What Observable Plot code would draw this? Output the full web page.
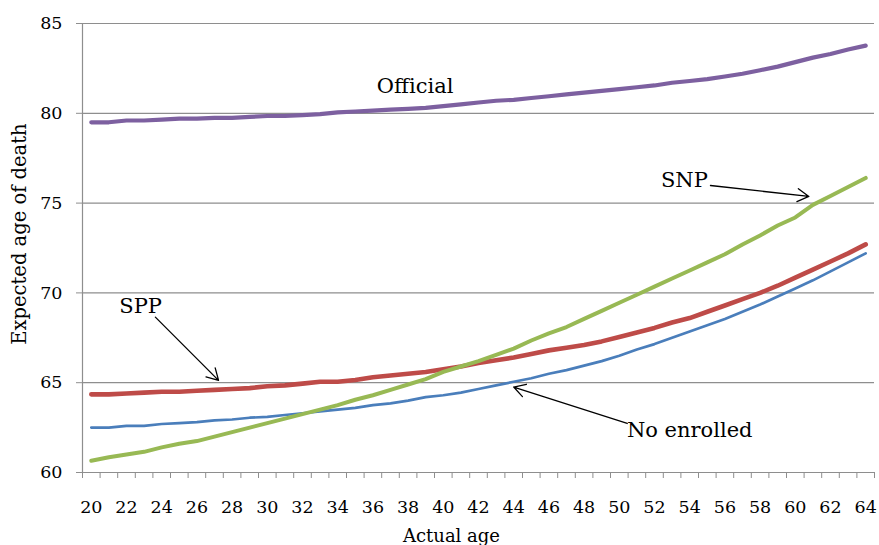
<!DOCTYPE html>
<html>
<head>
<meta charset="utf-8">
<script src="https://cdn.jsdelivr.net/npm/d3@7"></script>
<script src="https://cdn.jsdelivr.net/npm/@observablehq/plot@0.6"></script>
<style>
  html, body { margin: 0; padding: 0; background: #ffffff; }
  #chart svg { display: block; }
</style>
</head>
<body>
<div id="chart"></div>
<script>
// ---- Data ----
const ages = [20,21,22,23,24,25,26,27,28,29,30,31,32,33,34,35,36,37,38,39,40,41,42,
              43,44,45,46,47,48,49,50,51,52,53,54,55,56,57,58,59,60,61,62,63,64];

const noEnrolled = [62.5,62.5,62.6,62.6,62.7,62.75,62.8,62.9,62.95,63.05,63.1,63.2,63.3,63.4,63.5,
                    63.6,63.75,63.85,64.0,64.2,64.3,64.45,64.65,64.85,65.05,65.25,65.5,65.7,65.95,66.2,
                    66.5,66.85,67.15,67.5,67.85,68.2,68.55,68.95,69.35,69.8,70.25,70.7,71.2,71.7,72.2];

const spp = [64.35,64.35,64.4,64.45,64.5,64.5,64.55,64.6,64.65,64.7,64.8,64.85,64.95,65.05,65.05,
             65.15,65.3,65.4,65.5,65.6,65.75,65.9,66.1,66.25,66.4,66.6,66.8,66.95,67.1,67.3,
             67.55,67.8,68.05,68.35,68.6,68.95,69.3,69.65,70.0,70.4,70.85,71.3,71.75,72.2,72.7];

const snp = [60.65,60.85,61.0,61.15,61.4,61.6,61.75,62.0,62.25,62.5,62.75,63.0,63.25,63.5,63.75,
             64.05,64.3,64.6,64.9,65.2,65.6,65.9,66.2,66.55,66.9,67.35,67.75,68.1,68.55,69.0,
             69.45,69.9,70.35,70.8,71.25,71.7,72.15,72.7,73.2,73.75,74.2,74.9,75.4,75.9,76.4];

const official = [79.5,79.5,79.6,79.6,79.65,79.7,79.7,79.75,79.75,79.8,79.85,79.85,79.9,79.95,80.05,
                  80.1,80.15,80.2,80.25,80.3,80.4,80.5,80.6,80.7,80.75,80.85,80.95,81.05,81.15,81.25,
                  81.35,81.45,81.55,81.7,81.8,81.9,82.05,82.2,82.4,82.6,82.85,83.1,83.3,83.55,83.77];

const xTickLabels = [20,22,24,26,28,30,32,34,36,38,40,42,44,46,48,50,52,54,56,58,60,62,64];
const yTickLabels = [60,65,70,75,80,85];

const xTitle = "Actual age";
const yTitle = "Expected age of death";

// annotation labels (text positions in data units)
const labelNames = ["Official", "SPP", "SNP", "No enrolled"];
const labelAges  = [38.4, 22.8, 53.7, 54.0];
const labelVals  = [81.5, 69.23, 76.26, 62.35];

// annotation arrows (data units): start -> end (arrow head at end)
const arrowFromAge = [23.64, 55.18, 50.45];
const arrowFromVal = [68.65, 75.98, 62.73];
const arrowToAge   = [27.23, 60.77, 44.0];
const arrowToVal   = [65.13, 75.37, 64.76];

// ---- Build tables for the library ----
const seriesDefs = [
  {name: "No enrolled", values: noEnrolled, color: "#4A7EBB", width: 2.7},
  {name: "SPP",         values: spp,        color: "#BE4B48", width: 4.6},
  {name: "SNP",         values: snp,        color: "#98B954", width: 4.0},
  {name: "Official",    values: official,   color: "#7D60A0", width: 4.2}
];
const labels = labelNames.map((t, i) => ({text: t, age: labelAges[i], value: labelVals[i]}));
const arrows = arrowFromAge.map((a, i) => ({x1: a, y1: arrowFromVal[i], x2: arrowToAge[i], y2: arrowToVal[i]}));
// category boundaries for tick marks (between categories, like the original)
const catBounds = ages.map(a => a - 0.5).concat([ages[ages.length - 1] + 0.5]);

const gridColor = "#8E8E8E";
const axisColor = "#8E8E8E";
const font = "DejaVu Serif";

const chart = Plot.plot({
  width: 879,
  height: 545,
  marginLeft: 82,
  marginRight: 5,
  marginTop: 23,
  marginBottom: 73,
  style: {fontFamily: font, fontSize: "17px", background: "#ffffff", color: "#000000", overflow: "visible"},
  x: {domain: [catBounds[0], catBounds[catBounds.length - 1]]},
  y: {domain: [yTickLabels[0], yTickLabels[yTickLabels.length - 1]]},
  marks: [
    // horizontal gridlines
    Plot.ruleY(yTickLabels.slice(1), {stroke: gridColor, strokeWidth: 1.2}),
    // axis lines
    Plot.ruleY([yTickLabels[0]], {stroke: axisColor, strokeWidth: 1.2}),
    Plot.ruleX([catBounds[0]], {stroke: axisColor, strokeWidth: 1.2}),
    // y axis
    Plot.axisY({ticks: yTickLabels, tickSize: 6, tickPadding: 14, stroke: axisColor, fill: "#000", fontSize: 17.5, label: null}),
    // x tick marks between categories
    Plot.axisX({ticks: catBounds, tickSize: 6, stroke: axisColor, fill: "none", label: null}),
    // x tick labels under every second category
    Plot.axisX({ticks: xTickLabels, tickSize: 0, tickPadding: 28, fill: "#000", fontSize: 17.5, label: null}),
    // axis titles
    Plot.text([xTitle], {frameAnchor: "bottom", textAnchor: "middle", dx: -27, dy: 69, fontSize: 18, fill: "#000"}),
    Plot.text([yTitle], {frameAnchor: "left", textAnchor: "middle", rotate: -90, dx: -63, dy: -14, fontSize: 19.5, fill: "#000"}),
    // series lines
    ...seriesDefs.map(s => Plot.line(s.values, {
      x: (d, i) => ages[i], y: d => d,
      stroke: s.color, strokeWidth: s.width, strokeLinejoin: "round", strokeLinecap: "round"
    })),
    // annotation arrows
    Plot.arrow(arrows, {x1: "x1", y1: "y1", x2: "x2", y2: "y2", stroke: "#000", strokeWidth: 1.3, headLength: 15, headAngle: 60}),
    // annotation labels
    Plot.text(labels, {x: "age", y: "value", text: "text", fontSize: 21, fill: "#000"})
  ]
});

document.getElementById("chart").appendChild(chart);
</script>
</body>
</html>
